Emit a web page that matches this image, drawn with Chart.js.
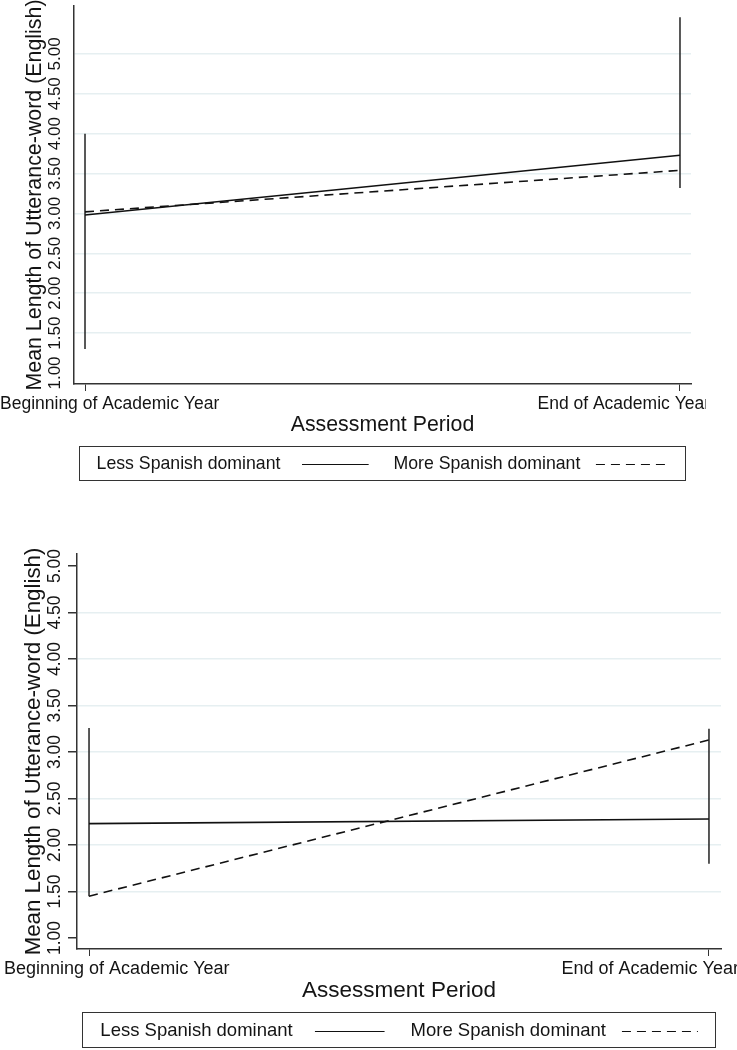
<!DOCTYPE html>
<html>
<head>
<meta charset="utf-8">
<title>Mean Length of Utterance-word (English)</title>
<script src="https://cdn.jsdelivr.net/npm/chart.js@4.4.1/dist/chart.umd.min.js"></script>
<style>
  body { margin: 0; background: #fff; }
  #wrap { position: relative; width: 737px; height: 1050px; }
  canvas { position: absolute; left: 0; }
  #topChart { top: 0; }
  #bottomChart { top: 495px; }
</style>
</head>
<body>
<div id="wrap">
  <canvas id="topChart" width="706" height="495"></canvas>
  <canvas id="bottomChart" width="737" height="555"></canvas>
</div>
<script>
// ------------------------------
// DATA
// ------------------------------
const periods = ["Beginning of Academic Year", "End of Academic Year"];
const seriesNames = ["Less Spanish dominant", "More Spanish dominant"];
const yTickValues = [1.0, 1.5, 2.0, 2.5, 3.0, 3.5, 4.0, 4.5, 5.0];

// upper panel
const lessTop = [2.98, 3.73];
const moreTop = [3.02, 3.54];
const rangeTopLow = [1.30, 3.32];
const rangeTopHigh = [4.00, 5.46];

// lower panel
const lessBottom = [2.23, 2.28];
const moreBottom = [1.45, 3.13];
const rangeBottomLow = [1.45, 1.80];
const rangeBottomHigh = [3.26, 3.25];

const FONT = "'Liberation Sans', Arial, sans-serif";
const INK = "#141414";
const GRID = "#e6eff1";

// ------------------------------
// TEXT + LEGEND PLUGIN
// ------------------------------
const panelText = {
  id: "panelText",
  afterDraw(chart, args, opts) {
    const ctx = chart.ctx;
    const xs = chart.scales.x;
    const ys = chart.scales.y;
    const area = chart.chartArea;
    ctx.save();
    ctx.fillStyle = INK;

    // y tick labels, rotated
    ctx.font = opts.yTickSize + "px " + FONT;
    ctx.textAlign = "center";
    ctx.textBaseline = "middle";
    yTickValues.forEach(v => {
      ctx.save();
      ctx.translate(opts.yTickX, ys.getPixelForValue(v));
      ctx.rotate(-Math.PI / 2);
      ctx.fillText(v.toFixed(2), 0, 0);
      ctx.restore();
    });

    // x tick labels
    ctx.font = opts.xTickSize + "px " + FONT;
    ctx.textBaseline = "alphabetic";
    const ty = area.bottom + 25;
    ctx.textAlign = "left";
    ctx.fillText(periods[0], xs.getPixelForValue(0) - 85, ty);
    ctx.textAlign = "right";
    ctx.fillText(periods[1], xs.getPixelForValue(1) + 30, ty);

    // legend box
    const bx = area.left + 5;
    const bw = area.right - 6 - bx;
    const by = area.bottom + opts.legendGap;
    const bh = opts.legendHeight;
    ctx.strokeStyle = "#333";
    ctx.lineWidth = 1;
    ctx.strokeRect(bx + 0.5, by + 0.5, bw, bh);

    const cy = by + bh / 2 + 1;
    const slots = [[0.029, 0.368, 0.478], [0.519, 0.853, 0.973]];
    ctx.font = opts.legendSize + "px " + FONT;
    ctx.textAlign = "left";
    ctx.textBaseline = "middle";
    slots.forEach((s, i) => {
      const ds = chart.data.datasets[i];
      ctx.fillStyle = INK;
      ctx.fillText(ds.label, bx + bw * s[0], cy);
      ctx.beginPath();
      ctx.setLineDash(ds.borderDash || []);
      ctx.lineWidth = 1.2;
      ctx.strokeStyle = ds.borderColor;
      ctx.moveTo(bx + bw * s[1], Math.round(cy) + 0.5);
      ctx.lineTo(bx + bw * s[2], Math.round(cy) + 0.5);
      ctx.stroke();
    });
    ctx.setLineDash([]);
    ctx.restore();
  }
};

function points(values) {
  return values.map((v, i) => ({ x: i, y: v }));
}

function rangeLine(i, low, high) {
  return [{ x: i, y: low[i] }, { x: i, y: high[i] }];
}

// ------------------------------
// BUILD ONE PANEL
// ------------------------------
function buildPanel(canvasId, less, more, low, high, p) {
  new Chart(document.getElementById(canvasId), {
    type: "line",
    data: {
      datasets: [
        { label: seriesNames[0], data: points(less), borderColor: "#111", borderWidth: 1.6, borderDash: [] },
        { label: seriesNames[1], data: points(more), borderColor: "#111", borderWidth: 1.6, borderDash: [9, 6] },
        { label: "range 1", data: rangeLine(0, low, high), borderColor: "#222", borderWidth: 1.5 },
        { label: "range 2", data: rangeLine(1, low, high), borderColor: "#222", borderWidth: 1.5 }
      ]
    },
    options: {
      responsive: false,
      animation: false,
      devicePixelRatio: 1,
      elements: { point: { radius: 0 }, line: { tension: 0 } },
      layout: { padding: { top: p.padTop, right: p.padRight, left: 0, bottom: 0 } },
      plugins: {
        legend: { display: false },
        tooltip: { enabled: false },
        panelText: p.text
      },
      scales: {
        x: {
          type: "linear",
          min: -p.xPad,
          max: 1 + p.xPad,
          afterBuildTicks: s => { s.ticks = periods.map((_, i) => ({ value: i })); },
          afterFit: s => { s.height = p.xHeight; },
          ticks: { display: false },
          grid: { drawOnChartArea: false, drawTicks: true, tickLength: 7, tickColor: "#333", color: "#333" },
          border: { display: true, color: "#333", width: 1.5 },
          title: {
            display: true,
            text: "Assessment Period",
            color: INK,
            font: { family: FONT, size: p.xTitleSize },
            padding: { top: 0, bottom: p.xTitlePad }
          }
        },
        y: {
          min: p.yMin,
          max: p.yMax,
          afterBuildTicks: s => { s.ticks = yTickValues.map(v => ({ value: v })); },
          afterFit: s => { s.width = p.yWidth; },
          ticks: { display: false },
          grid: {
            color: c => (p.gridValues.includes(c.tick.value) ? GRID : "rgba(0,0,0,0)"),
            lineWidth: 1.5,
            drawTicks: p.yTickLen > 0,
            tickLength: p.yTickLen,
            tickColor: "#333"
          },
          border: { display: true, color: "#333", width: 1.5 },
          title: {
            display: true,
            text: "Mean Length of Utterance-word (English)",
            color: INK,
            font: { family: FONT, size: p.yTitleSize },
            padding: { top: p.yTitlePad, bottom: 0 }
          }
        }
      }
    },
    plugins: [panelText]
  });
}

// ------------------------------
// INIT
// ------------------------------
buildPanel("topChart", lessTop, moreTop, rangeTopLow, rangeTopHigh, {
  padTop: 6, padRight: 15, yWidth: 74, xHeight: 111, xPad: 0.0185,
  yMin: 0.862, yMax: 5.60, gridValues: [1.5, 2.0, 2.5, 3.0, 3.5, 4.0, 4.5, 5.0], yTickLen: 0,
  xTitleSize: 21.3, yTitleSize: 21.4, xTitlePad: 57, yTitlePad: 22,
  text: { yTickX: 55, yTickSize: 17, xTickSize: 17.5, legendSize: 17.7, legendGap: 62, legendHeight: 34 }
});

buildPanel("bottomChart", lessBottom, moreBottom, rangeBottomLow, rangeBottomHigh, {
  padTop: 59, padRight: 16, yWidth: 77, xHeight: 101, xPad: 0.0194,
  yMin: 0.882, yMax: 5.13, gridValues: [1.5, 2.0, 2.5, 3.0, 3.5, 4.0, 4.5], yTickLen: 9,
  xTitleSize: 22.5, yTitleSize: 22.3, xTitlePad: 46, yTitlePad: 20,
  text: { yTickX: 55, yTickSize: 17.5, xTickSize: 18, legendSize: 18.5, legendGap: 63, legendHeight: 35 }
});
</script>
</body>
</html>
